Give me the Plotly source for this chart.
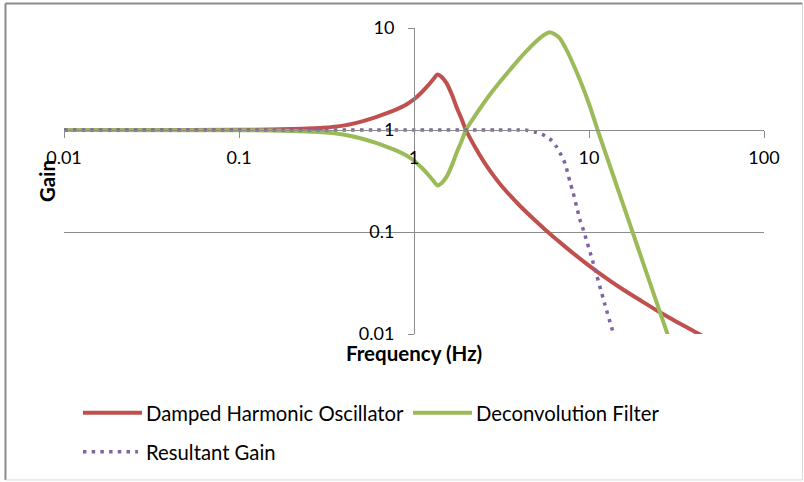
import plotly.graph_objects as go

# Frequency response curves (frequency in Hz, gain as ratio)
freq_dho = [0.01, 0.03, 0.1, 0.15, 0.2, 0.3, 0.4, 0.5, 0.6, 0.7, 0.8, 0.9, 1.0,
            1.1, 1.2, 1.3, 1.36, 1.44, 1.54, 1.65, 1.75, 1.87, 1.98, 2.24, 2.5,
            2.8, 3.16, 3.55, 4.0, 4.5, 5.0, 5.6, 6.3, 7.1, 8.0, 10.0, 12.6,
            15.8, 20.0, 25.0, 31.6, 40.0, 50.0]
gain_dho = [1.0, 1.0, 1.003, 1.01, 1.02, 1.05, 1.11, 1.21, 1.33, 1.46, 1.6, 1.77,
            2.0, 2.32, 2.72, 3.2, 3.5, 3.3, 2.85, 2.2, 1.68, 1.28, 1.0, 0.673,
            0.492, 0.371, 0.284, 0.227, 0.183, 0.15, 0.1265, 0.106, 0.089,
            0.0748, 0.0632, 0.0468, 0.0351, 0.027, 0.021, 0.0166, 0.0132,
            0.0106, 0.0086]

freq_filter = [0.01, 0.1, 0.15, 0.2, 0.3, 0.4, 0.5, 0.6, 0.7, 0.8, 0.9, 1.0,
               1.1, 1.2, 1.3, 1.36, 1.44, 1.54, 1.65, 1.75, 1.87, 1.98, 2.24,
               2.5, 2.8, 3.16, 3.55, 4.0, 4.5, 5.0, 5.5, 5.98, 6.4, 6.83, 7.3,
               7.79, 8.89, 10.1, 11.2, 13.8, 17.1, 22.0, 27.8, 30.0]
gain_filter = [1.0, 0.997, 0.99, 0.98, 0.952, 0.90, 0.826, 0.752, 0.685, 0.625,
               0.565, 0.50, 0.431, 0.368, 0.3125, 0.286, 0.303, 0.351, 0.455,
               0.595, 0.78, 1.0, 1.39, 1.83, 2.38, 3.09, 3.92, 4.98, 6.2, 7.41,
               8.5, 9.1, 8.65, 7.9, 6.5, 5.2, 3.07, 1.72, 1.0, 0.352, 0.12,
               0.034, 0.0105, 0.0072]

freq_result = [0.01, 0.1, 1.0, 3.0, 4.0, 4.4, 4.91, 5.41, 6.12, 6.54, 6.94, 7.3,
               7.79, 8.1, 8.5, 8.9, 9.3, 10.6, 12.3, 14.2]
gain_result = [1.0, 1.0, 1.0, 1.0, 1.0, 0.995, 0.956, 0.907, 0.79, 0.68, 0.565,
               0.468, 0.309, 0.246, 0.176, 0.13, 0.104, 0.0489, 0.0197, 0.0085]

x_ticks = [0.01, 0.1, 1, 10, 100]
x_labels = ["0.01", "0.1", "1", "10", "100"]
y_ticks = [0.01, 0.1, 1, 10]
y_labels = ["0.01", "0.1", "1", "10"]

series_names = ["Damped Harmonic Oscillator", "Deconvolution Filter", "Resultant Gain"]
RED, GREEN, PURPLE = "#C0504D", "#9BBB59", "#8064A2"
GRID = "#8c8c8c"
FONT = "Lato, Calibri, sans-serif"
DOT = "3.5px,5.2px"
SMOOTH = 0.7

fig = go.Figure()
fig.add_trace(go.Scatter(x=freq_dho, y=gain_dho, mode="lines", name=series_names[0],
                         line=dict(color=RED, width=4, shape="spline", smoothing=SMOOTH)))
fig.add_trace(go.Scatter(x=freq_filter, y=gain_filter, mode="lines", name=series_names[1],
                         line=dict(color=GREEN, width=4, shape="spline", smoothing=SMOOTH)))
fig.add_trace(go.Scatter(x=freq_result, y=gain_result, mode="lines", name=series_names[2],
                         line=dict(color=PURPLE, width=3.5, dash=DOT, shape="spline",
                                   smoothing=SMOOTH)))

fig.update_layout(
    width=804, height=482,
    margin=dict(l=64, r=40, t=28, b=148),
    paper_bgcolor="white", plot_bgcolor="white",
    showlegend=False,
    font=dict(family=FONT, size=18, color="#000000"),
    xaxis=dict(type="log", range=[-2, 2], anchor="free", position=2/3,
               tickvals=x_ticks, ticktext=x_labels, ticks="outside", ticklen=7,
               tickcolor=GRID, showline=True, linecolor=GRID, linewidth=1,
               showgrid=False, zeroline=False, ticklabelstandoff=4),
    yaxis=dict(type="log", range=[-2, 1], anchor="free", position=0.5,
               tickvals=y_ticks, ticktext=y_labels, ticks="outside", ticklen=6,
               tickcolor=GRID, showline=True, linecolor=GRID, linewidth=1,
               showgrid=True, gridcolor=GRID, gridwidth=1, zeroline=False,
               ticklabelstandoff=10),
)

# Axis titles
fig.add_annotation(text="<b>Gain</b>", xref="paper", yref="paper", x=-0.0243, y=0.5,
                   textangle=-90, showarrow=False, xanchor="center", yanchor="middle",
                   font=dict(family=FONT, size=20.5))
fig.add_annotation(text="<b>Frequency (Hz)</b>", xref="paper", yref="paper",
                   x=0.5, y=-0.063, showarrow=False, xanchor="center",
                   yanchor="middle", font=dict(family=FONT, size=20.5))

# Legend drawn below the plot
legend_items = [
    (series_names[0], RED, "solid", 4, 0.0271, 0.1114, -0.257),
    (series_names[1], GREEN, "solid", 4, 0.4986, 0.5829, -0.257),
    (series_names[2], PURPLE, DOT, 3.5, 0.0271, 0.1057, -0.385),
]
for name, color, dash, width, x0, x1, yy in legend_items:
    fig.add_shape(type="line", xref="paper", yref="paper", x0=x0, x1=x1, y0=yy, y1=yy,
                  line=dict(color=color, width=width, dash=dash))
    fig.add_annotation(text=name, xref="paper", yref="paper", x=x0 + 0.0872, y=yy,
                       showarrow=False, xanchor="left", yanchor="middle",
                       font=dict(family=FONT, size=20.3))

# Chart frame
fig.add_shape(type="line", xref="paper", yref="paper", x0=-0.0836, x1=-0.0836,
              y0=-0.477, y1=1.080, line=dict(color="#8a8a8a", width=2))
fig.add_shape(type="line", xref="paper", yref="paper", x0=-0.0836, x1=1.055,
              y0=1.080, y1=1.080, line=dict(color="#8a8a8a", width=2))
fig.add_shape(type="line", xref="paper", yref="paper", x0=1.055, x1=1.055,
              y0=-0.477, y1=1.080, line=dict(color="#d9d9d9", width=1))
fig.add_shape(type="line", xref="paper", yref="paper", x0=-0.0836, x1=1.055,
              y0=-0.477, y1=-0.477, line=dict(color="#d9d9d9", width=1))

fig.write_html("out.html")
